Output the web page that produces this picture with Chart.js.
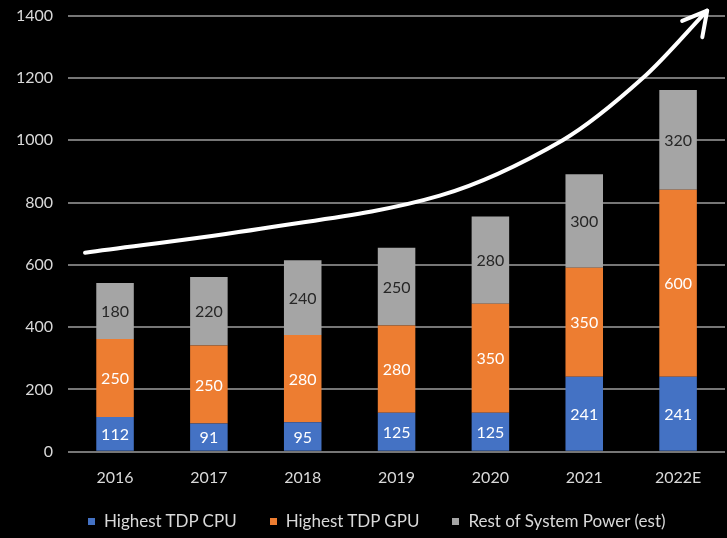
<!DOCTYPE html>
<html>
<head>
<meta charset="utf-8">
<script src="https://cdn.jsdelivr.net/npm/chart.js@4.4.1/dist/chart.umd.min.js"></script>
<style>
  html, body { margin: 0; padding: 0; background: #000; }
  #wrap { position: relative; width: 727px; height: 538px; background: #000; overflow: hidden; }
  #myChart { position: absolute; left: 0; top: -9px; }
  #legend {
    position: absolute; left: 88px; top: 510px;
    display: flex; gap: 33px;
    font-family: Lato, "Open Sans", sans-serif; font-size: 17px; line-height: 22px; color: #d9d9d9;
  }
  #legend span.item { display: flex; align-items: center; white-space: nowrap; }
  #legend span.box { width: 7px; height: 7px; margin-right: 9px; display: inline-block; }
</style>
</head>
<body>
<div id="wrap">
  <canvas id="myChart" width="727" height="547"></canvas>
  <div id="legend"></div>
</div>
<script>
const years = ['2016', '2017', '2018', '2019', '2020', '2021', '2022E']
const cpuTdp = [112, 91, 95, 125, 125, 241, 241]
const gpuTdp = [250, 250, 280, 280, 350, 350, 600]
const restPower = [180, 220, 240, 250, 280, 300, 320]
const seriesNames = ['Highest TDP CPU', 'Highest TDP GPU', 'Rest of System Power (est)']
const yTicks = [0, 200, 400, 600, 800, 1000, 1200, 1400]

// trend arrow, given as [category position, value]
const trendX = [-0.32, 1.55, 3.46, 4.77, 5.63, 6.31]
const trendY = [639, 716, 822, 1000, 1201, 1416]

const colors = ['#4472c4', '#ed7d31', '#a5a5a5']
const labelColors = ['#ffffff', '#ffffff', '#262626']
const font = 'Lato, "Open Sans", sans-serif'

// values written in the middle of each segment
const segmentLabels = {
    id: 'segmentLabels',
    afterDatasetsDraw(chart) {
        const ctx = chart.ctx
        ctx.save()
        ctx.font = '16px ' + font
        ctx.textAlign = 'center'
        ctx.textBaseline = 'middle'
        chart.data.datasets.forEach((ds, i) => {
            chart.getDatasetMeta(i).data.forEach((bar, j) => {
                const mid = (bar.y + bar.base) / 2
                ctx.fillStyle = labelColors[i]
                ctx.fillText(String(ds.data[j]), bar.x, mid + 1)
            })
        })
        ctx.restore()
    }
}

// curved white arrow over the bars (cubic hermite through the trend points)
const trendArrow = {
    id: 'trendArrow',
    afterDraw(chart) {
        const xs = chart.scales.x, ys = chart.scales.y
        const step = xs.getPixelForValue(1) - xs.getPixelForValue(0)
        const pts = trendX.map((v, i) => ({
            x: xs.getPixelForValue(0) + v * step,
            y: ys.getPixelForValue(trendY[i])
        }))
        const n = pts.length
        const slope = pts.map((p, i) => {
            const a = pts[Math.max(i - 1, 0)], b = pts[Math.min(i + 1, n - 1)]
            return (b.y - a.y) / (b.x - a.x)
        })
        const ctx = chart.ctx
        ctx.save()
        ctx.strokeStyle = '#ffffff'
        ctx.lineWidth = 4
        ctx.lineCap = 'round'
        ctx.lineJoin = 'round'
        ctx.beginPath()
        ctx.moveTo(pts[0].x, pts[0].y)
        for (let i = 0; i < n - 1; i++) {
            const p1 = pts[i], p2 = pts[i + 1]
            const h = (p2.x - p1.x) / 3
            ctx.bezierCurveTo(p1.x + h, p1.y + slope[i] * h, p2.x - h, p2.y - slope[i + 1] * h, p2.x, p2.y)
        }
        ctx.stroke()

        const tip = pts[n - 1]
        const ang = Math.atan2(slope[n - 1], 1) - 0.08
        const len = 27, spread = 0.5
        ctx.beginPath()
        ctx.moveTo(tip.x - len * Math.cos(ang - spread), tip.y - len * Math.sin(ang - spread))
        ctx.lineTo(tip.x, tip.y)
        ctx.lineTo(tip.x - len * Math.cos(ang + spread), tip.y - len * Math.sin(ang + spread))
        ctx.stroke()
        ctx.restore()
    }
}

const ctx = document.getElementById('myChart').getContext('2d')
const sets = [cpuTdp, gpuTdp, restPower]

new Chart(ctx, {
    type: 'bar',
    data: {
        labels: years,
        datasets: sets.map((d, i) => ({
            label: seriesNames[i],
            data: d,
            backgroundColor: colors[i],
            borderWidth: 0,
            barPercentage: 0.4,
            categoryPercentage: 1
        }))
    },
    options: {
        responsive: false,
        animation: false,
        layout: { autoPadding: false, padding: { top: 6, left: 1, right: 2, bottom: 43 } },
        plugins: {
            legend: { display: false },
            tooltip: { enabled: false }
        },
        scales: {
            x: {
                stacked: true,
                grid: { display: false },
                border: { display: false },
                ticks: { color: '#d9d9d9', font: { family: font, size: 16 }, padding: 8 }
            },
            y: {
                stacked: true,
                min: 0,
                max: 1400,
                afterBuildTicks: axis => { axis.ticks = yTicks.map(v => ({ value: v })) },
                grid: { color: '#767676', lineWidth: 2, drawTicks: false },
                border: { display: false },
                ticks: {
                    color: '#d9d9d9', font: { family: font, size: 16 }, padding: 15,
                    callback: v => String(v)
                }
            }
        }
    },
    plugins: [segmentLabels, trendArrow]
})

// legend underneath
const legend = document.getElementById('legend')
seriesNames.forEach((name, i) => {
    const item = document.createElement('span')
    item.className = 'item'
    const box = document.createElement('span')
    box.className = 'box'
    box.style.background = colors[i]
    item.appendChild(box)
    item.appendChild(document.createTextNode(name))
    legend.appendChild(item)
})
</script>
</body>
</html>
